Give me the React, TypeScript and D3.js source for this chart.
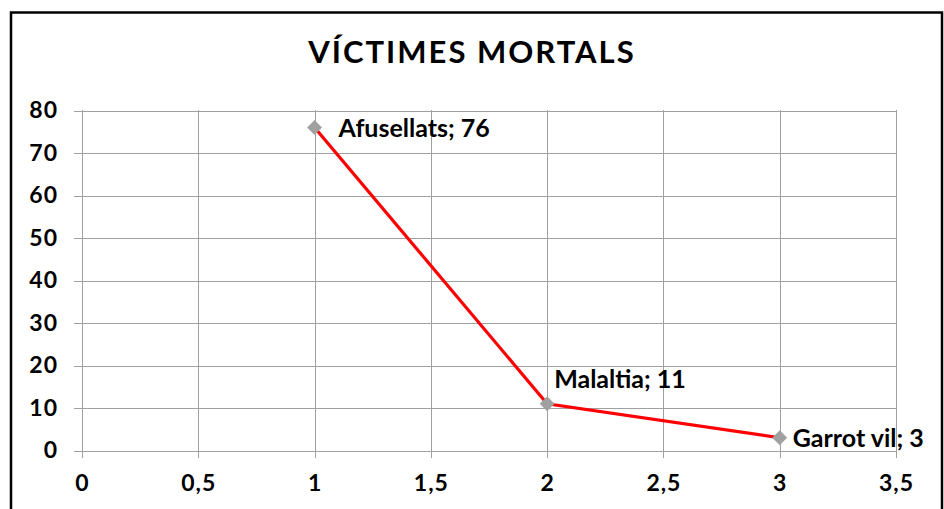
import React from "react";
import * as d3 from "d3";

const categories = ["Afusellats", "Malaltia", "Garrot vil"];
const xValues = [1, 2, 3];
const yValues = [76, 11, 3];
const xTicks = [0, 0.5, 1, 1.5, 2, 2.5, 3, 3.5];
const yTicks = [0, 10, 20, 30, 40, 50, 60, 70, 80];
const title = "VÍCTIMES MORTALS";

const W = 944;
const H = 509;
const FONT = "Lato, 'Open Sans', sans-serif";

export default function App() {
  const x = d3.scaleLinear().domain([0, 3.5]).range([82, 896]);
  const y = d3.scaleLinear().domain([0, 80]).range([450.5, 110.5]);
  const fmt = (v: number) => String(v).replace(".", ",");
  const line = d3
    .line<number>()
    .x((_, i) => x(xValues[i]))
    .y((d) => y(d));
  const diamond = d3.symbol().type(d3.symbolDiamond2).size(140)();

  const labelPos = [
    { dx: 24, dy: 9 },
    { dx: 7, dy: -16 },
    { dx: 13, dy: 9 },
  ];

  return (
    <svg
      width={W}
      height={H}
      style={{ position: "absolute", left: 0, top: 0, background: "#fff" }}
    >
      <rect x={11} y={12.5} width={931} height={520} fill="#fff" stroke="#000" strokeWidth={2.5} />
      <text
        x={472}
        y={63}
        textAnchor="middle"
        fontFamily={FONT}
        fontWeight="bold"
        fontSize={31}
        letterSpacing={2}
      >
        {title}
      </text>
      {yTicks.map((t) => (
        <g key={"y" + t}>
          <line x1={74} x2={896} y1={Math.round(y(t)) + 0.5} y2={Math.round(y(t)) + 0.5} stroke="#A0A0A0" strokeWidth={1} />
          <text
            x={58}
            y={y(t) + 7.5}
            textAnchor="end"
            fontFamily={FONT}
            fontWeight="bold"
            fontSize={23}
            letterSpacing={1}
          >
            {fmt(t)}
          </text>
        </g>
      ))}
      {xTicks.map((t) => (
        <g key={"x" + t}>
          <line x1={Math.round(x(t)) + 0.5} x2={Math.round(x(t)) + 0.5} y1={110} y2={458} stroke="#A0A0A0" strokeWidth={1} />
          <text
            x={x(t) + 0.5}
            y={491}
            textAnchor="middle"
            fontFamily={FONT}
            fontWeight="bold"
            fontSize={23}
            letterSpacing={1}
          >
            {fmt(t)}
          </text>
        </g>
      ))}
      <path d={line(yValues) || ""} fill="none" stroke="#FF0000" strokeWidth={3.2} />
      {yValues.map((v, i) => (
        <path
          key={"m" + i}
          d={diamond || ""}
          transform={`translate(${x(xValues[i])},${y(v)})`}
          fill="#A0A0A0"
        />
      ))}
      {yValues.map((v, i) => (
        <text
          key={"l" + i}
          x={x(xValues[i]) + labelPos[i].dx}
          y={y(v) + labelPos[i].dy}
          fontFamily={FONT}
          fontWeight="bold"
          fontSize={25}
        >
          {`${categories[i]}; ${v}`}
        </text>
      ))}
    </svg>
  );
}
